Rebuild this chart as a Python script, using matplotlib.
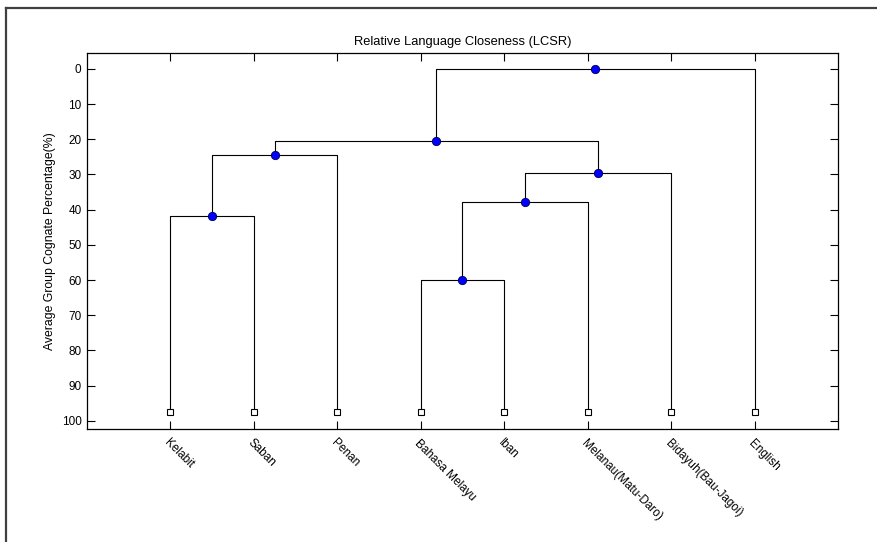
import matplotlib
matplotlib.use("Agg")
import matplotlib.pyplot as plt
from matplotlib.lines import Line2D

plt.rcParams["font.family"] = ["Liberation Sans", "DejaVu Sans"]

# leaves in dendrogram order
languages = ["Kelabit", "Saban", "Penan", "Bahasa Melayu", "Iban",
             "Melanau(Matu-Daro)", "Bidayuh(Bau-Jagoi)", "English"]
leaf_level = 97.5

# merges: (left cluster, right cluster, height); new clusters numbered from len(languages)
merge_left = [0, 8, 3, 10, 11, 9, 13]
merge_right = [1, 2, 4, 5, 6, 12, 7]
merge_height = [41.7, 24.4, 59.9, 37.7, 29.5, 20.4, 0.0]

fig = plt.figure(figsize=(8.77, 5.42), dpi=100)
ax = fig.add_axes([0.0992, 0.2085, 0.8563, 0.6937])

# node positions
xpos = {i: i + 1 for i in range(len(languages))}
ypos = {i: leaf_level for i in range(len(languages))}
n = len(languages)
for k, (a, b, h) in enumerate(zip(merge_left, merge_right, merge_height)):
    xa, xb = xpos[a], xpos[b]
    ax.plot([xa, xa, xb, xb], [ypos[a], h, h, ypos[b]], color="black", lw=0.8, zorder=1)
    xpos[n + k] = (xa + xb) / 2
    ypos[n + k] = h

# merge points
mx = [xpos[n + k] for k in range(len(merge_height))]
ax.plot(mx, merge_height, "o", color="blue", mec="#000050", mew=0.6, ms=6, zorder=3)

# leaf markers
lx = [xpos[i] for i in range(n)]
ax.plot(lx, [leaf_level] * n, "s", color="white", mec="black", mew=0.8, ms=4, zorder=3)

ax.set_xlim(0, 9)
ax.set_ylim(102.3, -4.5)
ax.set_yticks(range(0, 101, 10))
ax.set_xticks(lx)
ax.set_xticklabels([])
ax.tick_params(direction="in", length=5.5, width=0.8, top=True, right=True,
               labelsize=8.5, pad=4)
for s in ax.spines.values():
    s.set_linewidth(0.9)

for x, name in zip(lx, languages):
    ax.text(x, 104.6, name, rotation=-45, ha="left", va="top",
            rotation_mode="anchor", fontsize=8.5)

ax.set_title("Relative Language Closeness (LCSR)", fontsize=9.3, pad=6)
ax.set_ylabel("Average Group Cognate Percentage(%)", fontsize=8.8, labelpad=4)

# window frame (top and left edges visible in the screenshot)
fig.add_artist(Line2D([5.5 / 877, 1], [1 - 8 / 542, 1 - 8 / 542], color="#404040", lw=1.6,
                      transform=fig.transFigure))
fig.add_artist(Line2D([5.5 / 877, 5.5 / 877], [0, 1 - 8 / 542], color="#404040", lw=1.6,
                      transform=fig.transFigure))

fig.savefig("out.png", dpi=100)
